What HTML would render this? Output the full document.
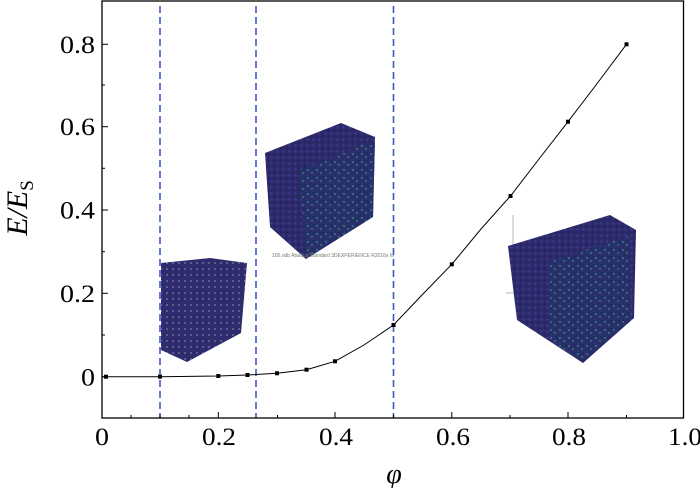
<!DOCTYPE html>
<html><head><style>
html,body{margin:0;padding:0;background:#fff;}
svg{display:block;}
text{font-family:"Liberation Serif",serif;fill:#000;}
</style></head><body>
<svg width="700" height="488" viewBox="0 0 700 488" xmlns="http://www.w3.org/2000/svg">
<defs>
<pattern id="sp" width="6" height="6" patternUnits="userSpaceOnUse">
<rect width="6" height="6" fill="#2c2a6a"/>
<circle cx="1.5" cy="1.5" r="1.2" fill="#3a3a88"/>
<circle cx="4.5" cy="4.2" r="1" fill="#22205a"/>
</pattern>
<pattern id="gr" width="9" height="8" patternUnits="userSpaceOnUse">
<rect width="9" height="8" fill="#29306a"/>
<circle cx="2" cy="2" r="1" fill="#2f8a8a"/>
<circle cx="6" cy="5" r="0.9" fill="#3aa070"/>
<circle cx="7" cy="1" r="0.8" fill="#1e2050"/>
</pattern>
<pattern id="sparse" width="6" height="6" patternUnits="userSpaceOnUse">
<rect width="6" height="6" fill="#2e2c6c"/>
<circle cx="5" cy="5" r="1" fill="#6a6a9a"/>
</pattern>
</defs>
<polygon points="161,263 210,258 247,263 241,333 187,362 161,350" fill="url(#sparse)"/>
<polygon points="265,153 341,123 375,137 373,217 306,259 270,227" fill="url(#sp)"/>
<polygon points="300,170 375,140 373,217 306,259" fill="url(#gr)" opacity="0.9"/>
<text x="272" y="257" font-size="5" style="font-family:'Liberation Sans',sans-serif;fill:#777">105.odb  Abaqus/Standard 3DEXPERIENCE R2016x  M</text>
<line x1="513" y1="215" x2="513" y2="250" stroke="#999" stroke-width="0.7"/>
<line x1="506" y1="293" x2="515" y2="293" stroke="#999" stroke-width="0.7"/>
<polygon points="508,246 610,215 636,230 634,318 583,363 517,320" fill="url(#sp)"/>
<polygon points="548,262 630,236 632,318 583,363 550,340" fill="url(#gr)" opacity="0.9"/>
<g stroke="#3a5ac8" stroke-width="1.6" stroke-dasharray="7,4">
<line x1="160" y1="6" x2="160" y2="418"/>
<line x1="256" y1="6" x2="256" y2="418"/>
<line x1="393.5" y1="6" x2="393.5" y2="418"/>
</g>
<rect x="102" y="1" width="581.5" height="417" fill="none" stroke="#000" stroke-width="1.3"/>
<g stroke="#000" stroke-width="1">
<line x1="102" y1="376.7" x2="108" y2="376.7"/><line x1="102" y1="335" x2="105" y2="335"/>
<line x1="102" y1="293.3" x2="108" y2="293.3"/><line x1="102" y1="251.7" x2="105" y2="251.7"/>
<line x1="102" y1="210" x2="108" y2="210"/><line x1="102" y1="168.3" x2="105" y2="168.3"/>
<line x1="102" y1="126.7" x2="108" y2="126.7"/><line x1="102" y1="85" x2="105" y2="85"/>
<line x1="102" y1="44.3" x2="108" y2="44.3"/>
<line x1="102" y1="418" x2="102" y2="412"/><line x1="131" y1="418" x2="131" y2="415"/>
<line x1="160" y1="418" x2="160" y2="415"/><line x1="189" y1="418" x2="189" y2="415"/>
<line x1="218.3" y1="418" x2="218.3" y2="412"/><line x1="277.5" y1="418" x2="277.5" y2="415"/>
<line x1="335" y1="418" x2="335" y2="412"/><line x1="393.5" y1="418" x2="393.5" y2="415"/>
<line x1="451.8" y1="418" x2="451.8" y2="412"/><line x1="510" y1="418" x2="510" y2="415"/>
<line x1="568" y1="418" x2="568" y2="412"/><line x1="626.5" y1="418" x2="626.5" y2="415"/>
</g>
<g font-size="25">
<text x="81" y="385.5" textLength="14" lengthAdjust="spacingAndGlyphs">0</text>
<text x="60" y="302" textLength="35" lengthAdjust="spacingAndGlyphs">0.2</text>
<text x="60" y="218.5" textLength="35" lengthAdjust="spacingAndGlyphs">0.4</text>
<text x="60" y="135" textLength="35" lengthAdjust="spacingAndGlyphs">0.6</text>
<text x="60" y="53" textLength="35" lengthAdjust="spacingAndGlyphs">0.8</text>
</g>
<g font-size="25">
<text x="95" y="445" textLength="14" lengthAdjust="spacingAndGlyphs">0</text>
<text x="202" y="445" textLength="34" lengthAdjust="spacingAndGlyphs">0.2</text>
<text x="319" y="445" textLength="34" lengthAdjust="spacingAndGlyphs">0.4</text>
<text x="436" y="445" textLength="34" lengthAdjust="spacingAndGlyphs">0.6</text>
<text x="552" y="445" textLength="34" lengthAdjust="spacingAndGlyphs">0.8</text>
<text x="668" y="445" textLength="34" lengthAdjust="spacingAndGlyphs">1.0</text>
</g>
<text x="394" y="483" font-size="28" font-style="italic" text-anchor="middle">φ</text>
<text transform="translate(27,208) rotate(-90)" font-size="30" font-style="italic" text-anchor="middle">E/E<tspan font-style="normal" font-size="19" dy="6">S</tspan></text>
<polyline fill="none" stroke="#000" stroke-width="1" points="102,376.7 160,376.7 218.3,376 247.5,375 277,373.3 306.5,369.7 335,361.3 364,345 393.5,325 422,295 451.8,264.3 481,229 510.5,196 539,159 568,121.7 596,85 626.5,44.3"/>
<g fill="#000">
<rect x="104" y="374.7" width="4" height="4"/><rect x="158" y="374.7" width="4" height="4"/>
<rect x="216.3" y="374" width="4" height="4"/><rect x="245.5" y="373" width="4" height="4"/>
<rect x="275" y="371.3" width="4" height="4"/><rect x="304.5" y="367.7" width="4" height="4"/>
<rect x="333" y="359.3" width="4" height="4"/><rect x="391.5" y="323" width="4" height="4"/>
<rect x="449.8" y="262.3" width="4" height="4"/><rect x="508.5" y="194" width="4" height="4"/>
<rect x="566" y="119.7" width="4" height="4"/><rect x="624.5" y="42.3" width="4" height="4"/>
</g>
</svg>
</body></html>
